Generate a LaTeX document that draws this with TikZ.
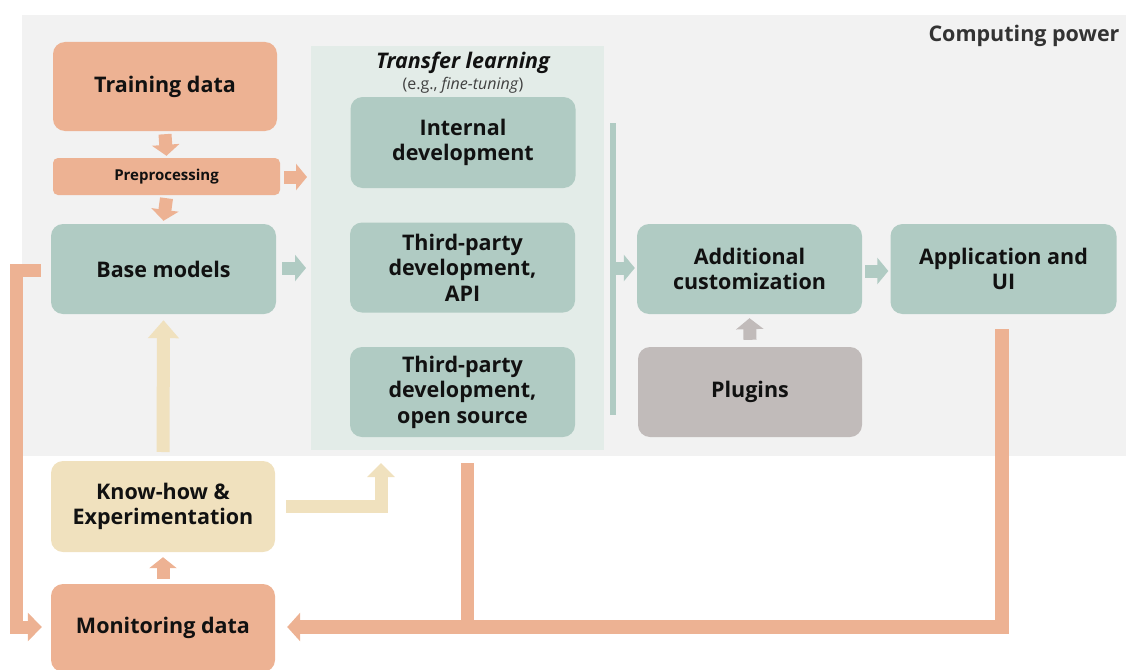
\documentclass[tikz,border=0pt]{standalone}
\usepackage{fontspec}
\setmainfont{Open Sans}
\usetikzlibrary{arrows.meta}
\definecolor{salmon}{HTML}{EDB293}
\definecolor{sage}{HTML}{B0CBC3}
\definecolor{cream}{HTML}{F0E1BE}
\definecolor{plug}{HTML}{C1BBBA}
\definecolor{bggray}{HTML}{F2F2F2}
\definecolor{panelc}{HTML}{E3ECE8}
\definecolor{txt}{HTML}{111111}
\begin{document}
\begin{tikzpicture}[x=1pt,y=-1pt,
  box/.style={rectangle, rounded corners=12pt, inner sep=0pt, align=center,
    font=\fontsize{21.5}{25.5}\selectfont\bfseries, text=txt},
  blk/.style={line width=13pt, line join=miter, -{Triangle[width=27pt,length=11pt]}},
  thinblk/.style={line width=13pt, -{Triangle[width=26pt,length=11pt]}}]
\useasboundingbox (0,0) rectangle (1126,669);
% backgrounds
\fill[bggray] (22,15) rectangle (1126,456);
\node[anchor=east, font=\fontsize{21.5}{24}\selectfont\bfseries, text=black!80] (cp) at (1123,36) {Computing power};
\fill[panelc] (311,46) rectangle (604,450);
\node[font=\fontsize{21.5}{24}\selectfont\bfseries\itshape, text=txt] (tl) at (463,63) {Transfer learning};
\node[font=\fontsize{16}{18}\selectfont, text=black!75] (eg) at (463,85) {(e.g., \textit{fine-tuning})};
% boxes
\node[box, fill=salmon, minimum width=224pt, minimum height=89pt] (train) at (165,86.5) {Training data};
\node[box, fill=salmon, rounded corners=5pt, minimum width=227pt, minimum height=37pt, font=\fontsize{15}{18}\selectfont\bfseries] (prep) at (166.5,176.5) {Preprocessing};
\node[box, fill=sage, minimum width=225pt, minimum height=90pt] (base) at (163.5,269) {Base models};
\node[box, fill=cream, minimum width=224pt, minimum height=91pt] (know) at (163,506.5) {Know-how \&\\Experimentation};
\node[box, fill=salmon, minimum width=224pt, minimum height=88pt] (mon) at (163,628) {Monitoring data};
\node[box, fill=sage, minimum width=225pt, minimum height=91pt] (int) at (463,142.5) {Internal\\development};
\node[box, fill=sage, minimum width=225pt, minimum height=90pt] (api) at (462.5,267.5) {Third-party\\development,\\API};
\node[box, fill=sage, minimum width=225pt, minimum height=90pt] (open) at (462.5,392) {Third-party\\development,\\open source};
\fill[sage] (610,123) rectangle (616,415);
\coordinate (bar) at (616,268);
\node[box, fill=sage, minimum width=225pt, minimum height=90pt] (addl) at (749.5,269) {Additional\\customization};
\node[box, fill=sage, minimum width=226pt, minimum height=90pt] (app) at (1003.5,269) {Application and\\UI};
\node[box, fill=plug, minimum width=224pt, minimum height=90pt] (plug) at (750,392) {Plugins};
% coordinates for free ends
\coordinate (prepR) at (284,177);
\coordinate (panelL1) at (307,177);
\coordinate (baseR) at (282,268);
\coordinate (panelL2) at (306,268);
\coordinate (panelB) at (381,463);
\coordinate (panelS) at (467.5,463);
\coordinate (botJ) at (467.5,627);
% arrows
\draw[blk, salmon] ([yshift=-3pt]train.south) -- ([yshift=2pt]prep.north);
\draw[blk, salmon] ([yshift=-3pt]prep.south) -- ([yshift=3pt]base.north);
\draw[thinblk, salmon, line width=13pt] (prepR) -- (panelL1);
\draw[thinblk, sage] (baseR) -- (panelL2);
\draw[thinblk, sage] (bar) -- ([xshift=-2pt]addl.west |- bar);
\draw[thinblk, sage] ([xshift=3pt]addl.east |- 0,271) -- ([xshift=-2pt]app.west |- 0,271);
\draw[blk, plug] ([yshift=7pt]plug.north) -- ([yshift=-4pt]addl.south);
\draw[line width=13pt, cream, -{Triangle[width=30pt,length=18pt]}] (163,452) -- ([yshift=-6pt]base.south);
\draw[blk, salmon] ([yshift=5pt]mon.north) -- ([yshift=-5pt]know.south);
\draw[line width=13pt, cream, line join=miter, -{Triangle[width=27pt,length=14pt]}] ([xshift=11pt]know.east |- 0,506.5) -| (panelB);
\draw[line width=14pt, salmon, line join=miter, -{Triangle[width=28pt,length=13pt]}] ([yshift=-15pt]app.south -| 1002,0) |- ([xshift=12pt]mon.east |- 0,627);
\draw[line width=13pt, salmon] (panelS) -- (botJ);
\draw[line width=13pt, salmon, line join=miter, -{Triangle[width=28pt,length=14pt]}] ([xshift=-10pt]base.west |- 0,270.5) -| (16.5,627) -- ([xshift=-9pt]mon.west |- 0,627);
\end{tikzpicture}
\end{document}
